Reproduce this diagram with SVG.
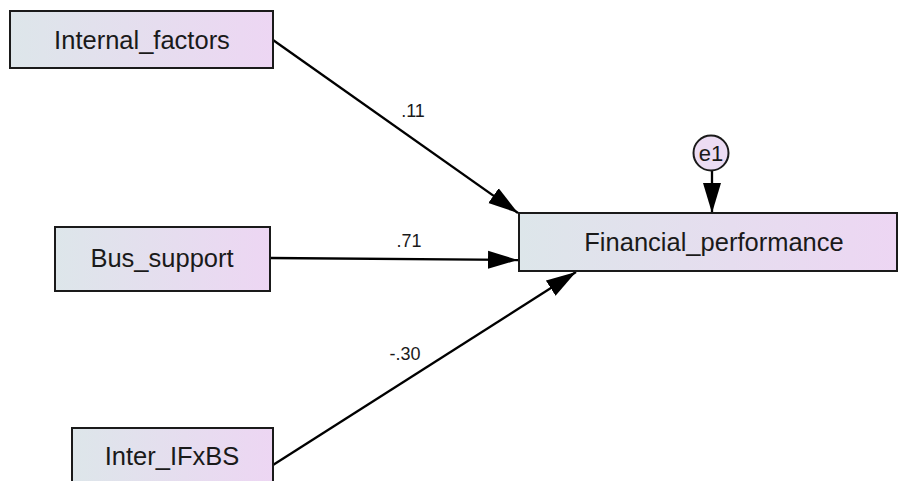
<svg xmlns="http://www.w3.org/2000/svg" width="898" height="481" viewBox="0 0 898 481">
<style>
.box{stroke:#1a1a1a;stroke-width:2;fill:url(#g)}
.lbl{font-family:"Liberation Sans",Arial,sans-serif;font-size:25.5px;fill:#1a1a1a;text-anchor:middle}
.coef{font-family:"Liberation Sans",Arial,sans-serif;font-size:18px;fill:#1a1a1a;text-anchor:middle}
.edge{stroke:#000;stroke-width:2.3;fill:none;marker-end:url(#ah)}
</style>
<defs>
<linearGradient id="g" x1="0" y1="0" x2="1" y2="0">
<stop offset="0" stop-color="#dde6ea"/>
<stop offset="1" stop-color="#edd6f3"/>
</linearGradient>
<marker id="ah" markerUnits="userSpaceOnUse" markerWidth="32" markerHeight="20" refX="30" refY="10" orient="auto">
<path d="M0,1 L30,10 L0,19 Z" fill="#000"/>
</marker>
</defs>
<rect width="898" height="481" fill="#fff"/>
<g id="connectors">
<line class="edge" x1="273" y1="40" x2="518" y2="213"/>
<line class="edge" x1="270" y1="258" x2="518" y2="260"/>
<line class="edge" x1="273" y1="465" x2="576" y2="272"/>
<line class="edge" x1="712" y1="170" x2="712" y2="213"/>
<text class="coef" x="413" y="117">.11</text>
<text class="coef" x="409" y="247">.71</text>
<text class="coef" x="405" y="360">-.30</text>
</g>
<g id="internal_factors">
<rect class="box" x="10" y="11" width="263" height="57"/>
<text class="lbl" x="142" y="49">Internal_factors</text>
</g>
<g id="bus_support">
<rect class="box" x="55" y="227" width="215" height="64"/>
<text class="lbl" x="162" y="267">Bus_support</text>
</g>
<g id="inter_ifxbs">
<rect class="box" x="72" y="428" width="201" height="70"/>
<text class="lbl" x="172" y="465">Inter_IFxBS</text>
</g>
<g id="financial_performance">
<rect class="box" x="519" y="213" width="378" height="58"/>
<text class="lbl" x="714" y="251">Financial_performance</text>
</g>
<g id="e1">
<circle cx="711" cy="153" r="17.5" fill="#ecdcf3" stroke="#1a1a1a" stroke-width="2"/>
<text class="lbl" x="711" y="161" style="font-size:22px">e1</text>
</g>
</svg>
